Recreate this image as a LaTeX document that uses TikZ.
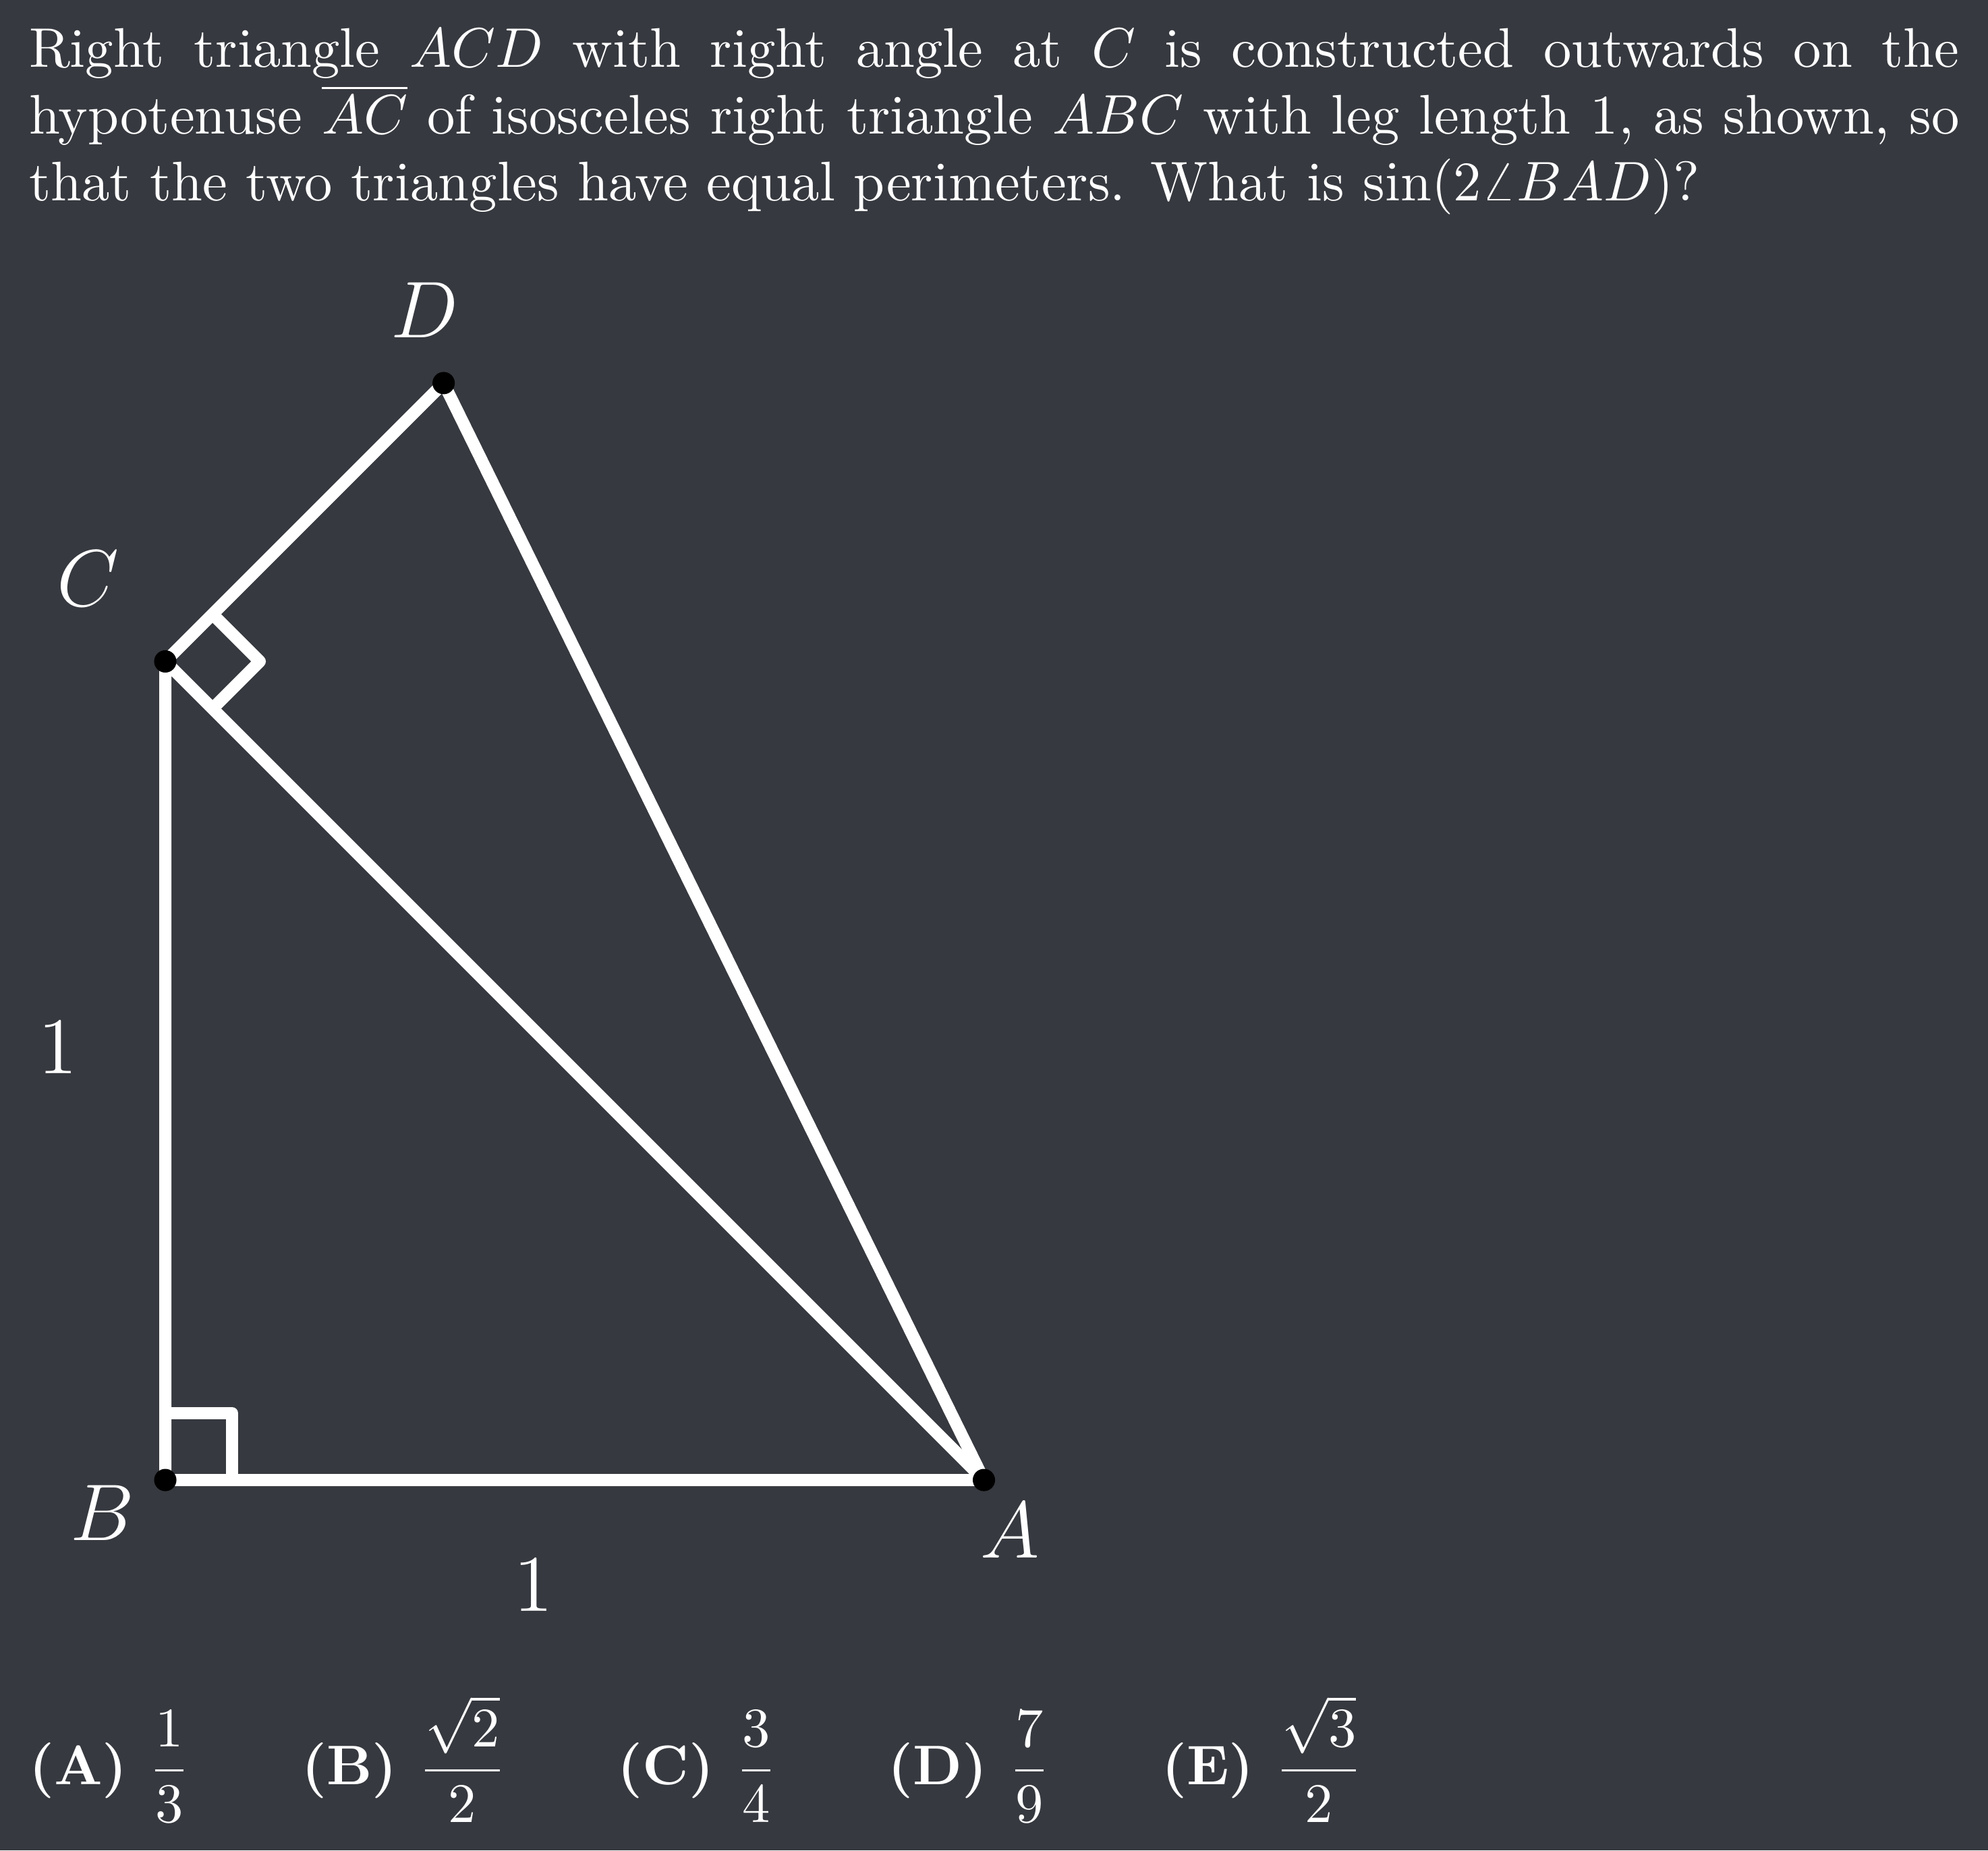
\documentclass[tikz,border=0pt]{standalone}
\usepackage{amsmath}
\usepackage{xcolor}
\usepackage{tikz}
\definecolor{BG}{HTML}{36393F}
\tikzset{
  side/.style={white, line width=2.18pt, line join=round},
  lbl/.style={text=white, inner sep=0pt, font=\Large},
}

\begin{document}
\begin{tikzpicture}[x=5.157cm, y=5.157cm]%
\useasboundingbox (-0.2019,-0.4524) rectangle (2.2266,1.808);%
\fill[BG] (-0.2019,-0.4524) rectangle (2.2266,1.808);%
% question text
\node[anchor=base west, inner sep=0pt, text width=346pt, align=justify, text=white] (question) at (-0.1678, 1.7264) {Right triangle $ACD$ with right angle at $C$ is constructed outwards on the\linebreak \mbox{hypotenuse} $\overline{AC}$ of isosceles right triangle $ABC$ with leg length 1, as shown, so\linebreak that the two triangles have equal perimeters. What is $\sin(2\angle BAD)$?};%
% points
\coordinate (B) at (0,0);%
\coordinate (A) at (1,0);%
\coordinate (C) at (0,1);%
\coordinate (D) at (0.34,1.34);%
% sides
\draw[side] (B) -- (A) -- (C) -- cycle;%
\draw[side] (C) -- (D) -- (A);%
% right angle marks
\draw[side] (0.0816,0) -- (0.0816,0.0816) -- (0,0.0816);%
\draw[side] (0.0577,0.9423) -- (0.1154,1) -- (0.0577,1.0577);%
\foreach \p in {A,B,C,D} \fill[black] (\p) circle (2pt);%
% labels
\node[lbl] (labA) at (1.032,-0.062) {$A$};%
\node[lbl] (labB) at (-0.077,-0.040) {$B$};%
\node[lbl] (labC) at (-0.094,1.101) {$C$};%
\node[lbl] (labD) at (0.317,1.429) {$D$};%
\node[lbl] (legBC) at (-0.131,0.528) {$1$};%
\node[lbl] (legBA) at (0.450,-0.129) {$1$};%
% answer choices
\node[anchor=base west, inner sep=0pt, text=white] (choices) at (-0.1678,-0.3717) {$\textbf{(A) }\dfrac{1}{3}\qquad\textbf{(B) }\dfrac{\sqrt{2}}{2}\qquad\textbf{(C) }\dfrac{3}{4}\qquad\textbf{(D) }\dfrac{7}{9}\qquad\textbf{(E) }\dfrac{\sqrt{3}}{2}$};%
\end{tikzpicture}
\end{document}
